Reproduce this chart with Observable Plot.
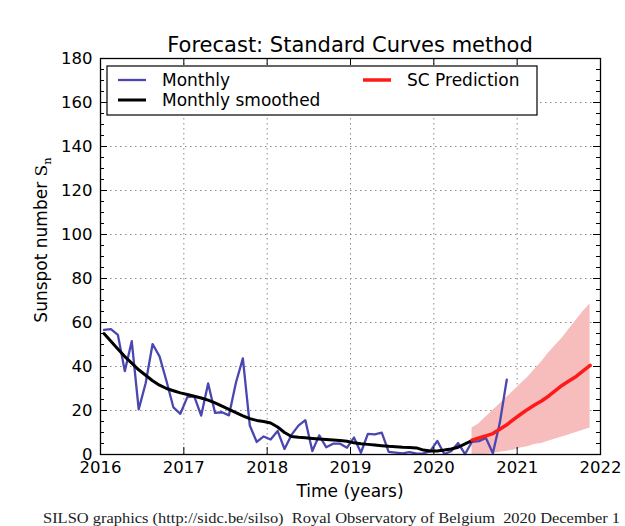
<!DOCTYPE html>
<html>
<head>
<meta charset="utf-8">
<script src="https://cdn.jsdelivr.net/npm/d3@7"></script>
<script src="https://cdn.jsdelivr.net/npm/@observablehq/plot@0.6"></script>
<style>
  html, body { margin: 0; padding: 0; background: white; }
  #chart svg { display: block; }
</style>
</head>
<body>
<div id="chart"></div>
<script>
// ---------- DATA ----------
const monthlyStart = 2016; // January 2016, mid-month points
const monthlyValues = [
  56.6, 57.0, 54.4, 37.9, 51.5, 20.5, 32.4, 50.2, 44.6, 33.4, 21.4, 18.5,   // 2016
  26.1, 26.4, 17.7, 32.3, 18.9, 19.2, 17.8, 32.6, 43.7, 13.2, 5.7, 8.2,     // 2017
  6.8, 10.7, 2.5, 8.9, 13.1, 15.6, 1.6, 8.7, 3.3, 4.9, 4.9, 3.1,            // 2018
  7.7, 0.8, 9.4, 9.1, 9.9, 1.2, 0.9, 0.5, 1.1, 0.4, 0.5, 1.5,               // 2019
  6.2, 0.2, 1.5, 5.2, 0.2, 5.8, 6.1, 7.5, 0.6, 14.4, 34.0                   // 2020
];
const smoothedValues = [
  55.0, 51.5, 48.0, 44.5, 41.5, 38.5, 36.0, 33.5, 31.5, 30.0, 29.0, 28.0,   // 2016
  27.3, 26.5, 25.7, 24.7, 23.5, 22.0, 20.5, 19.0, 17.6, 16.3, 15.5, 15.0,   // 2017
  14.3, 12.5, 10.0, 8.2, 7.8, 7.6, 7.3, 7.0, 6.8, 6.6, 6.4, 6.0,            // 2018
  5.3, 4.9, 4.6, 4.3, 4.0, 3.7, 3.5, 3.3, 3.2, 3.0, 2.0, 1.6,               // 2019
  1.6, 2.0, 2.5, 3.3, 4.8, 6.3                                              // 2020
];
const predStart = [2020, 6]; // June 2020
const predValues = [6.5, 7.5, 8.5, 9.5, 11.5, 13.5, 16.0, 18.3, 20.5, 22.5, 24.3, 26.5, 29.0, 31.5, 33.5, 35.5, 38.0, 40.5];
const predUpper  = [12, 14, 17, 20, 23, 26, 29, 32, 35, 38.5, 42, 46, 49.5, 53, 57, 61, 65, 68.5];
const predLower  = [0, 0, 0, 0.5, 1, 1.5, 2, 3, 3.5, 4.5, 5, 6, 7, 8, 9, 10, 11, 12];

const xTicks = [2016, 2017, 2018, 2019, 2020, 2021, 2022];
const yTicks = [0, 20, 40, 60, 80, 100, 120, 140, 160, 180];
const yMinorTicks = d3.range(0, 181, 5);

const titleText = "Forecast: Standard Curves method";
const xLabel = "Time (years)";
const yLabel = "Sunspot number S";
const yLabelSub = "n";
const legendItems = ["Monthly", "Monthly smoothed", "SC Prediction"];
const footerText = "SILSO graphics (http://sidc.be/silso)  Royal Observatory of Belgium  2020 December 1";

// ---------- TABLES ----------
const monthly = monthlyValues.map((v, i) => ({t: monthlyStart + (i + 0.5) / 12, v}));
const smoothed = smoothedValues.map((v, i) => ({t: monthlyStart + (i + 0.5) / 12, v}));
const pred = predValues.map((v, i) => ({
  t: predStart[0] + (predStart[1] - 1 + i + 0.5) / 12, v, lo: predLower[i], hi: predUpper[i]
}));

// ---------- LAYOUT ----------
const W = 625, H = 526;
const mL = 100, mR = 25, mT = 58, mB = 72;
const plotH = H - mT - mB;
const plotW = W - mL - mR;
const fs = 16.5;

const gridStyle = {stroke: "#8a8a8a", strokeOpacity: 1, strokeDasharray: "1.5,3.5", strokeWidth: 1};

const chart = Plot.plot({
  width: W, height: H,
  marginLeft: mL, marginRight: mR, marginTop: mT, marginBottom: mB,
  x: {domain: [2016, 2022], label: null},
  y: {domain: [0, 180], label: null},
  style: {fontFamily: "DejaVu Sans", fontSize: fs + "px", background: "white", color: "black"},
  marks: [
    Plot.gridX(xTicks.slice(1, -1), gridStyle),
    Plot.gridY(yTicks.slice(1, -1), gridStyle),
    Plot.areaY(pred, {x: "t", y1: "lo", y2: "hi", fill: "#f7bcbc", fillOpacity: 1}),
    Plot.lineY(monthly, {x: "t", y: "v", stroke: "#4a47b0", strokeWidth: 2.3}),
    Plot.lineY(smoothed, {x: "t", y: "v", stroke: "black", strokeWidth: 3}),
    Plot.lineY(pred, {x: "t", y: "v", stroke: "#ff1a1a", strokeWidth: 3.5}),
    Plot.frame({stroke: "black", strokeWidth: 1.3}),
    // inward tick marks
    Plot.tickX(xTicks, {x: d => d, insetTop: plotH - 7, stroke: "black"}),
    Plot.tickX(xTicks, {x: d => d, insetBottom: plotH - 7, stroke: "black"}),
    Plot.tickY(yTicks, {y: d => d, insetRight: plotW - 7, stroke: "black"}),
    Plot.tickY(yTicks, {y: d => d, insetLeft: plotW - 7, stroke: "black"}),
    Plot.tickY(yMinorTicks, {y: d => d, insetRight: plotW - 4, stroke: "black"}),
    Plot.tickY(yMinorTicks, {y: d => d, insetLeft: plotW - 4, stroke: "black"}),
    Plot.axisX(xTicks, {tickSize: 0, tickPadding: 7, tickFormat: d => String(d), fontSize: fs, fill: "black"}),
    Plot.axisY(yTicks, {tickSize: 0, tickPadding: 8, tickFormat: d => String(d), fontSize: fs, fill: "black"})
  ]
});

document.getElementById("chart").appendChild(chart);

// ---------- TITLES, LEGEND, FOOTER ----------
const svg = d3.select(chart);
const ff = "DejaVu Sans";
const lfs = 17;

svg.append("text").attr("x", 350).attr("y", 52).attr("text-anchor", "middle")
  .attr("font-family", ff).attr("font-size", 21).attr("fill", "black").text(titleText);

svg.append("text").attr("x", 350).attr("y", 497).attr("text-anchor", "middle")
  .attr("font-family", ff).attr("font-size", lfs).attr("fill", "black").text(xLabel);

const yl = svg.append("text").attr("transform", "translate(47,240) rotate(-90)")
  .attr("text-anchor", "middle").attr("font-family", ff).attr("font-size", lfs).attr("fill", "black");
yl.append("tspan").text(yLabel.slice(0, -1));
yl.append("tspan").attr("font-family", "DejaVu Serif").text(yLabel.slice(-1));
yl.append("tspan").attr("font-family", "DejaVu Serif").attr("font-size", 11.5).attr("dy", 4).text(yLabelSub);

const lg = svg.append("g");
lg.append("rect").attr("x", 107).attr("y", 66).attr("width", 430).attr("height", 49)
  .attr("fill", "white").attr("stroke", "black").attr("stroke-width", 1.2);
const legendRows = [
  {x: 118, y: 80, color: "#4a47b0", w: 2.3, label: legendItems[0]},
  {x: 118, y: 100, color: "black", w: 3, label: legendItems[1]},
  {x: 363, y: 80, color: "#ff1a1a", w: 3.5, label: legendItems[2]}
];
legendRows.forEach(r => {
  lg.append("line").attr("x1", r.x).attr("x2", r.x + 28).attr("y1", r.y).attr("y2", r.y)
    .attr("stroke", r.color).attr("stroke-width", r.w);
  lg.append("text").attr("x", r.x + 44).attr("y", r.y + 6).attr("text-anchor", "start")
    .attr("font-family", ff).attr("font-size", lfs).attr("fill", "black").text(r.label);
});

svg.append("text").attr("x", 43).attr("y", 523).attr("text-anchor", "start")
  .attr("font-family", "Liberation Serif").attr("font-size", 14.5).attr("fill", "#222")
  .attr("textLength", 577).attr("lengthAdjust", "spacingAndGlyphs").text(footerText);
</script>
</body>
</html>
